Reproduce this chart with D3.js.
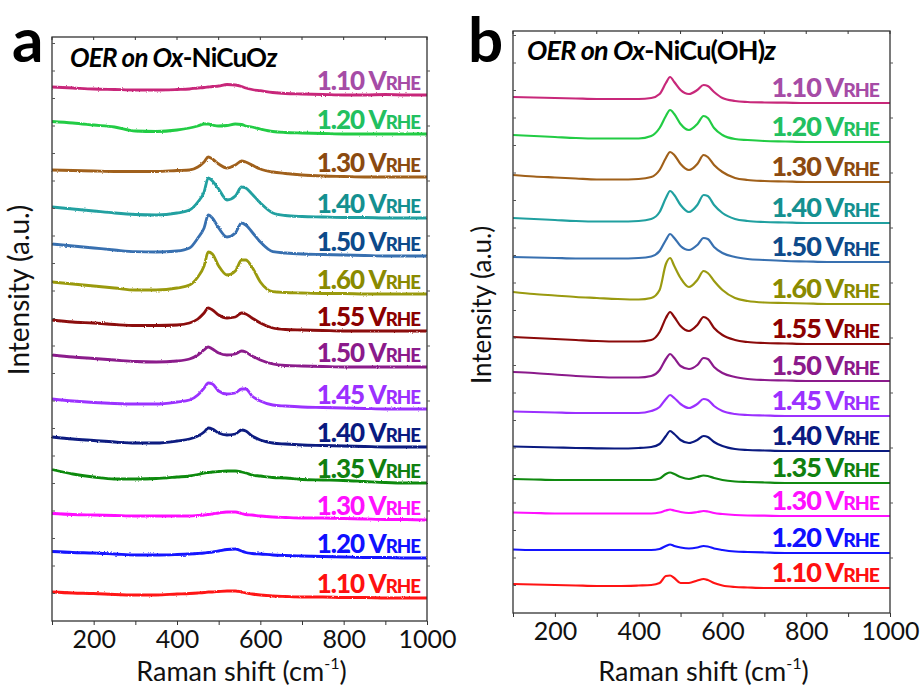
<!DOCTYPE html>
<html>
<head>
<meta charset="utf-8">
<script src="https://cdn.jsdelivr.net/npm/d3@7"></script>
<style>
  html, body { margin: 0; padding: 0; background: #fff; }
  svg { display: block; font-family: Lato, "Open Sans", sans-serif; }
</style>
</head>
<body>
<svg id="chart" width="924" height="691"></svg>
<script>
// Raman shift sample points (cm-1), shared by every spectrum
const ramanShift = [100, 150, 200, 250, 300, 350, 400, 430, 450, 465, 475, 485, 500, 520, 540, 555, 565, 580, 600, 630, 660, 700, 750, 800, 850, 900, 950, 1000];

const voltages = ["1.10", "1.20", "1.30", "1.40", "1.50", "1.60", "1.55", "1.50", "1.45", "1.40", "1.35", "1.30", "1.20", "1.10"];
const lineColors = ["#c8287a", "#22cc44", "#a0601a", "#20a0a0", "#3870b0", "#9a9a10", "#8b0a0a", "#8b1a8b", "#9b30ff", "#0a1a80", "#108a10", "#ff10ff", "#1414ff", "#ff1414"];
const labelColors = ["#a64ca6", "#22c060", "#8b4a10", "#149090", "#0d4a8a", "#8a8a00", "#8b0000", "#8b1a8b", "#9b30ff", "#0a1a80", "#108010", "#ff10ff", "#1010ff", "#ff1010"];

// panel a: Ox-NiCuOz, stacking offsets (a.u.) and intensity above each offset
const offsetsA = [526, 487, 444, 403, 365, 327, 290, 254, 212, 174, 138, 101, 63, 23];
const spectraA = [
  [8, 7, 6, 5.5, 5, 5, 5.5, 6, 7, 7.5, 8, 8.5, 9, 10.5, 10, 8.5, 7, 5.5, 4.3, 2.5, 1.5, 1, 0.5, 0, 0, 0.5, 0, 0],
  [12.5, 11, 9, 7, 3, 2.5, 4, 6, 8, 10, 10, 9, 8, 8.5, 10, 9.5, 8, 7, 5, 2.5, 1.5, 1, 0.5, 0, 0, 0, 0, 0],
  [7, 6.5, 6, 5.5, 5.5, 5.5, 6.5, 7, 10, 15, 20, 18, 13, 9, 12, 16, 15, 12, 8, 5, 3.5, 2, 1, 0.5, 0, 0, 0, 0],
  [11, 9, 7, 5, 3.5, 3, 5, 8, 16, 26, 40, 37, 29, 18, 22, 31, 30, 24, 15, 5, 2.5, 1.5, 1, 0.5, 0.5, 0, 0, 0],
  [12, 10, 8, 6, 4.3, 4, 5, 8, 18, 28, 41, 38, 28, 19, 23, 33, 31, 24, 14, 4.3, 3, 2, 1.5, 1, 0.5, 0, 0, 0],
  [12, 10, 8, 6, 4, 4, 6, 9, 17, 28, 42, 40, 28, 19, 23, 34, 34, 27, 12, 2.3, 1.5, 1, 0.5, 0.5, 0, 0, 0, 0],
  [11, 9, 8, 6.5, 5.5, 5.5, 6, 8, 12, 18, 23, 21, 16, 13, 14, 18, 17, 13, 8, 3, 1.5, 1, 0.5, 0, 0, 0, 0, 0],
  [12, 10, 8.5, 7, 5.5, 5, 6, 8, 12, 17, 20, 18, 14, 12, 13, 16, 15, 11, 7, 3, 1.5, 1, 0.5, 0, 0, 0, 0, 0],
  [10, 8, 6.5, 5.5, 5, 5, 7, 9, 14, 21, 26, 25, 18, 15, 16, 20, 20, 13, 8, 4, 3, 2, 1.5, 1, 0.5, 0, 0, 0],
  [10, 8, 6.5, 5, 4, 4, 6, 8, 11, 15, 19, 18, 14, 12, 13, 17, 16, 11, 7, 4, 3, 2, 1.5, 1, 0.5, 0, 0, 0],
  [13.5, 9, 6, 4, 4, 4.5, 6, 7, 8.5, 10, 10.5, 11, 11.5, 12, 12, 11, 10, 8, 7, 5.5, 5, 3.5, 3, 2.5, 1.5, 0.5, 0, 0],
  [6.5, 5.5, 5, 4.5, 4, 4, 4, 4, 4.5, 5, 5.5, 6, 7, 8, 8, 6.5, 5.5, 5, 4, 3, 2.5, 2, 2, 1.5, 1, 0.5, 0.5, 0],
  [6.5, 5.5, 5, 4, 3, 3, 3.5, 4, 4.5, 5, 5.5, 6, 7, 8.5, 9, 7, 5.5, 4.5, 4, 3, 2.5, 2, 1.5, 1, 0.5, 0.5, 0, 0],
  [6, 5, 4.5, 3.5, 3, 3, 4, 4.5, 5, 5.5, 6, 6, 6.5, 7, 7, 6, 5, 4, 3, 2, 1.5, 1, 1, 0.5, 0.5, 0, 0, 0]
];

// panel b: Ox-NiCu(OH)z
const offsetsB = [510, 471, 431, 390, 351, 309, 269, 232, 197, 162, 130, 97, 60, 25];
const spectraB = [
  [6, 5.5, 5, 4.5, 4, 4, 4, 5, 9, 20, 26, 21, 13, 9, 13, 18, 17, 11, 5, 2, 1, 0.5, 0.3, 0, 0, 0, 0, 0],
  [7, 6, 5, 4, 3.5, 3.5, 3.5, 6, 14, 26, 32, 28, 18, 12, 18, 26, 24, 14, 7, 3, 2, 1, 0.5, 0, 0, 0, 0, 0],
  [7, 5.5, 4.5, 3.5, 2.5, 2.5, 3, 5, 12, 24, 30, 27, 18, 12, 18, 27, 25, 17, 10, 4, 2, 1, 0.5, 0, 0, 0, 0, 0],
  [5, 4, 3, 2, 1.5, 1.5, 2, 4, 11, 25, 32, 28, 18, 11, 18, 28, 27, 18, 10, 4, 2, 1, 0.5, 0, 0, 0, 0, 0],
  [5, 4.5, 4, 3.5, 3.5, 3.5, 4, 5.5, 11, 22, 28, 24, 16, 12, 17, 24, 23, 15, 9, 5, 3, 2, 1, 0.5, 0, 0, 0, 0],
  [12, 10, 8.5, 7, 6, 5, 4.5, 6, 14, 40, 46, 38, 26, 17, 24, 33, 31, 23, 14, 6, 3, 1.5, 1, 0.5, 0, 0, 0, 0],
  [7, 6, 5, 4, 3, 2.5, 2.5, 4, 12, 26, 32, 27, 18, 13, 19, 27, 25, 16, 9, 4, 2, 1, 0.5, 0, 0, 0, 0, 0],
  [9, 8, 6.5, 5, 4, 3.5, 3.5, 5, 11, 22, 27, 23, 15, 12, 16, 23, 22, 14, 8, 4, 2, 1, 0.5, 0, 0, 0, 0, 0],
  [4.5, 4, 3.5, 3, 3, 3, 3, 5, 9, 17, 21, 18, 12, 8, 12, 17, 16, 10, 5, 2, 1, 0.5, 0, 0, 0, 0, 0, 0],
  [4.5, 4, 3.5, 3, 2.7, 2.5, 3, 4, 7, 15, 20, 17, 11, 8, 11, 15, 14, 9, 5, 2, 1, 0.5, 0, 0, 0, 0, 0, 0],
  [4, 3.5, 3, 3, 3, 3, 3, 3, 4.5, 9, 10.5, 9, 6, 4, 6, 7.5, 7, 5, 3, 1.5, 1, 0.5, 0, 0, 0, 0, 0, 0],
  [3.5, 3, 2.5, 2.5, 2.5, 2.5, 2.5, 2.5, 3.5, 5.5, 6.5, 5.5, 4, 3, 4, 5, 4.5, 3, 2, 1, 0.5, 0.3, 0, 0, 0, 0, 0, 0],
  [3.5, 3, 3, 3, 3, 3, 3, 3, 4, 7, 8.5, 7, 5.5, 4.5, 5.5, 7, 6.5, 4.5, 3, 1.5, 1, 0.5, 0, 0, 0, 0, 0, 0],
  [4, 3.5, 3, 2.5, 2, 2, 2.5, 3, 5, 12, 12.5, 10, 5, 5, 7.5, 9, 8, 5, 2.5, 1, 0.5, 0, 0, 0, 0, 0, 0, 0]
];

const xTicks = [100, 200, 300, 400, 500, 600, 700, 800, 900, 1000];

const svg = d3.select("#chart");

// grainy look for the panel a spectra
const defs = svg.append("defs");
const rough = defs.append("filter").attr("id", "rough")
  .attr("x", "-2%").attr("y", "-20%").attr("width", "104%").attr("height", "140%");
rough.append("feTurbulence").attr("type", "fractalNoise")
  .attr("baseFrequency", "0.8").attr("numOctaves", 1).attr("seed", 3).attr("result", "noise");
rough.append("feDisplacementMap").attr("in", "SourceGraphic").attr("in2", "noise")
  .attr("scale", 2.4).attr("xChannelSelector", "R").attr("yChannelSelector", "G");

function drawPanel(p) {
  const x = d3.scaleLinear().domain([100, 1000]).range([p.left, p.right]);
  const y = d3.scaleLinear().domain([0, p.yMax]).range([p.bottom, p.top]);
  const g = svg.append("g");

  // spectra
  const line = d3.line()
    .x((d, i) => x(ramanShift[i]))
    .y(d => y(d))
    .curve(d3.curveMonotoneX);

  const traces = g.append("g").attr("filter", p.noisy ? "url(#rough)" : null);
  p.spectra.forEach((s, k) => {
    traces.append("path")
      .datum(s.map(v => v + p.offsets[k]))
      .attr("fill", "none")
      .attr("stroke", lineColors[k])
      .attr("stroke-width", p.lineWidth)
      .attr("stroke-linejoin", "round")
      .attr("d", line);
  });

  // potential labels
  p.offsets.forEach((o, k) => {
    const t = g.append("text")
      .attr("x", p.labelX)
      .attr("y", y(o) - p.labelGap)
      .attr("text-anchor", "end")
      .attr("fill", labelColors[k])
      .attr("font-weight", 900)
      .attr("font-size", p.labelSize)
      .attr("letter-spacing", "-1px");
    t.append("tspan").text(voltages[k] + " V");
    t.append("tspan").attr("font-size", "0.72em").text("RHE");
  });

  // frame
  g.append("rect")
    .attr("x", p.left).attr("y", p.top)
    .attr("width", p.right - p.left).attr("height", p.bottom - p.top)
    .attr("fill", "none").attr("stroke", "#333").attr("stroke-width", 1.3);

  // bottom axis
  const xAxis = g.append("g")
    .attr("transform", `translate(0,${p.bottom})`)
    .call(d3.axisBottom(x).tickValues(xTicks).tickSize(4).tickPadding(5)
      .tickFormat(d => d % 200 === 0 ? d : ""));
  xAxis.select(".domain").remove();
  xAxis.selectAll("line").attr("stroke", "#333");
  xAxis.selectAll("text").attr("font-size", 25).attr("fill", "#111")
    .attr("font-family", "Lato, sans-serif");

  // top ticks (inward)
  g.selectAll(".ttick").data(xTicks).join("line")
    .attr("x1", d => x(d)).attr("x2", d => x(d))
    .attr("y1", p.top).attr("y2", p.top + 3)
    .attr("stroke", "#333");

  // side ticks
  g.selectAll(".ltick").data(d3.range(p.yStep, p.yMax, p.yStep)).join("line")
    .attr("x1", p.left).attr("x2", p.left + 3)
    .attr("y1", d => y(d)).attr("y2", d => y(d))
    .attr("stroke", "#555");
  g.selectAll(".rtick").data(d3.range(p.yStep * 2, p.yMax, p.yStep * 2)).join("line")
    .attr("x1", p.right).attr("x2", p.right + 3)
    .attr("y1", d => y(d)).attr("y2", d => y(d))
    .attr("stroke", "#555");

  // axis titles
  const xt = g.append("text")
    .attr("x", (p.left + p.right) / 2 + 2).attr("y", 681)
    .attr("text-anchor", "middle").attr("font-size", 27).attr("fill", "#111");
  xt.append("tspan").text("Raman shift (cm");
  xt.append("tspan").attr("font-size", "0.6em").attr("dy", "-0.75em").text("-1");
  xt.append("tspan").attr("dy", "0.45em").text(")");

  g.append("text")
    .attr("transform", `translate(${p.yLabelX},${p.yLabelY}) rotate(-90)`)
    .attr("text-anchor", "middle").attr("font-size", p.yLabelSize).attr("fill", "#111")
    .text("Intensity (a.u.)");

  // panel title
  const tt = g.append("text")
    .attr("x", p.titleX).attr("y", p.titleY)
    .attr("font-size", p.titleSize).attr("font-weight", 700).attr("fill", "#000")
    .attr("letter-spacing", "-0.8px");
  tt.append("tspan").attr("font-style", "italic").text("OER on Ox");
  tt.append("tspan").text(p.material);
  tt.append("tspan").attr("font-style", "italic").text("z");

  // panel letter
  g.append("text")
    .attr("x", p.letterX).attr("y", p.letterY)
    .attr("font-size", 62).attr("font-weight", 700).attr("fill", "#000")
    .text(p.letter);
}

drawPanel({
  left: 52, right: 427, top: 37, bottom: 621, yMax: 584, yStep: 27.5,
  offsets: offsetsA, spectra: spectraA, noisy: true, lineWidth: 2.8,
  labelX: 420, labelGap: 5, labelSize: 26,
  yLabelX: 29, yLabelY: 290, yLabelSize: 28,
  titleX: 70, titleY: 67, titleSize: 26, material: "-NiCuO",
  letter: "a", letterX: 12, letterY: 62
});

drawPanel({
  left: 513, right: 890, top: 31, bottom: 613, yMax: 582, yStep: 27.5,
  offsets: offsetsB, spectra: spectraB, noisy: false, lineWidth: 2.2,
  labelX: 879, labelGap: 6.5, labelSize: 27,
  yLabelX: 491, yLabelY: 305, yLabelSize: 26,
  titleX: 527, titleY: 60, titleSize: 27, material: "-NiCu(OH)",
  letter: "b", letterX: 468, letterY: 62
});
</script>
</body>
</html>
